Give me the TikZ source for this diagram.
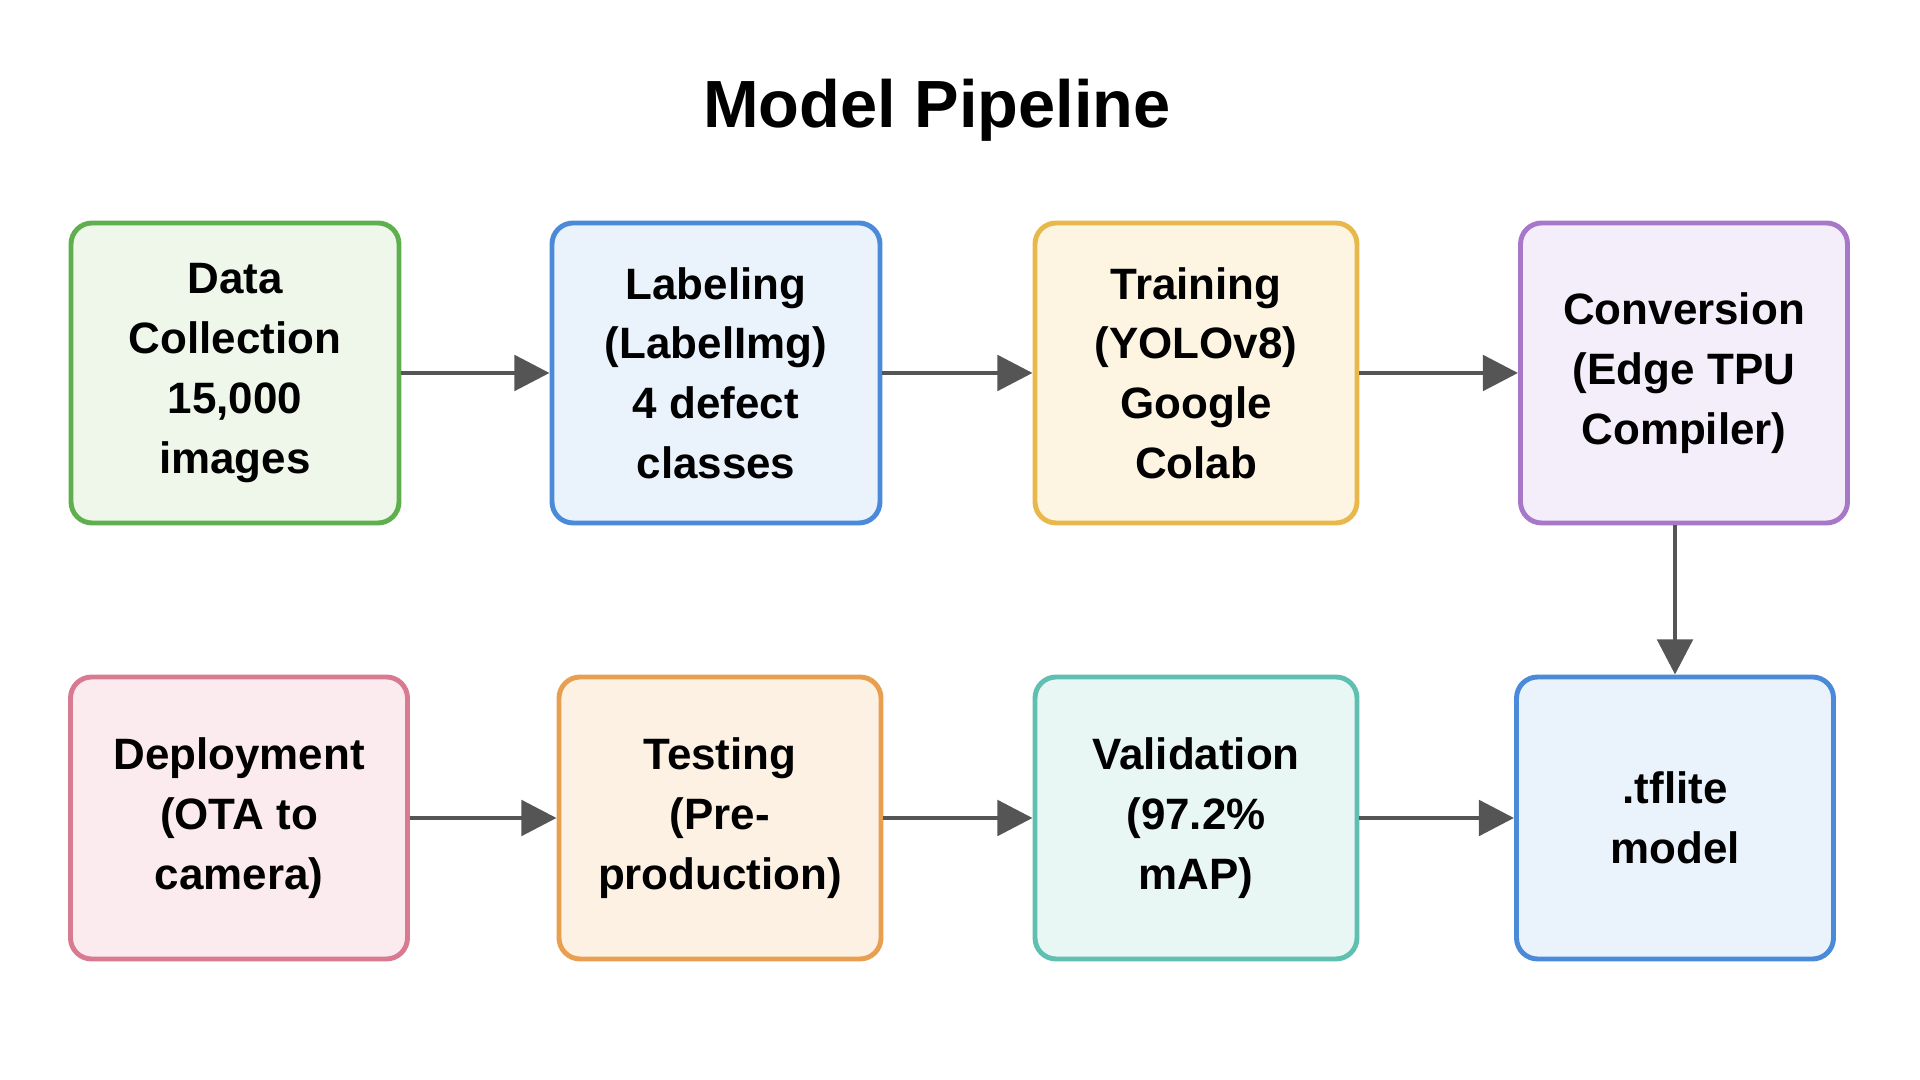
\documentclass[tikz,border=0pt]{standalone}
\usepackage{fontspec}
\setmainfont{Liberation Sans}
\usetikzlibrary{arrows.meta}

\definecolor{greenline}{HTML}{5FAF4F}\definecolor{greenfill}{HTML}{EEF7EA}
\definecolor{blueline}{HTML}{4A8AD8}\definecolor{bluefill}{HTML}{EAF2FC}
\definecolor{yellowline}{HTML}{E8B84A}\definecolor{yellowfill}{HTML}{FDF5E2}
\definecolor{purpleline}{HTML}{A878C8}\definecolor{purplefill}{HTML}{F4EDFA}
\definecolor{pinkline}{HTML}{D87A90}\definecolor{pinkfill}{HTML}{FCEBEE}
\definecolor{orangeline}{HTML}{E8A050}\definecolor{orangefill}{HTML}{FDF1E4}
\definecolor{tealline}{HTML}{5FBFB0}\definecolor{tealfill}{HTML}{E9F7F4}
\definecolor{arrowgray}{HTML}{555555}

\tikzset{
  stage/.style={draw=#1line, fill=#1fill, line width=1.4pt, rounded corners=6pt,
    align=center, inner sep=2pt,
    font=\fontsize{12.5}{17}\selectfont\bfseries},
  flow/.style={draw=arrowgray, line width=1.4pt,
    -{Triangle[width=10pt,length=10pt]}}
}

\begin{document}
\begin{tikzpicture}
  \useasboundingbox (0,0) rectangle (19.2,10.8);
  \node[font=\fontsize{19}{23}\selectfont\bfseries] (title) at (9.37,9.70) {Model Pipeline};

  % top row
  \node[stage=green, minimum width=3.28cm, minimum height=3.0cm] (data) at (2.35,7.07)
    {Data\\Collection\\15,000\\images};
  \node[stage=blue, minimum width=3.28cm, minimum height=3.0cm] (label) at (7.16,7.07)
    {Labeling\\(LabelImg)\\4 defect\\classes};
  \node[stage=yellow, minimum width=3.22cm, minimum height=3.0cm] (train) at (11.96,7.07)
    {Training\\(YOLOv8)\\Google\\Colab};
  \node[stage=purple, minimum width=3.27cm, minimum height=3.0cm] (conv) at (16.84,7.07)
    {Conversion\\(Edge TPU\\Compiler)};

  % bottom row
  \node[stage=pink, minimum width=3.37cm, minimum height=2.82cm] (deploy) at (2.39,2.62)
    {Deployment\\(OTA to\\camera)};
  \node[stage=orange, minimum width=3.22cm, minimum height=2.82cm] (test) at (7.20,2.62)
    {Testing\\(Pre-\\production)};
  \node[stage=teal, minimum width=3.22cm, minimum height=2.82cm] (valid) at (11.96,2.62)
    {Validation\\(97.2\%\\mAP)};
  \node[stage=blue, minimum width=3.17cm, minimum height=2.82cm] (tflite) at (16.75,2.62)
    {.tflite\\model};

  % connectors
  \draw[flow] (data) -- (label);
  \draw[flow] (label) -- (train);
  \draw[flow] (train) -- (conv);
  \draw[flow] (conv.south -| tflite.north) -- (tflite.north);
  \draw[flow] (deploy) -- (test);
  \draw[flow] (test) -- (valid);
  \draw[flow] (valid) -- (tflite);
\end{tikzpicture}
\end{document}
